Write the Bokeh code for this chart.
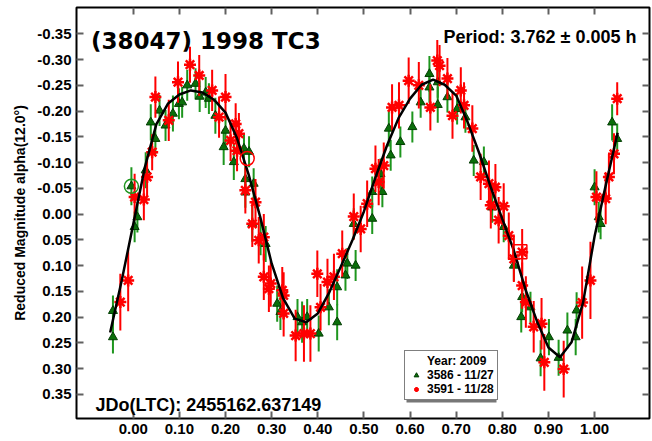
from bokeh.plotting import figure
from bokeh.models import (Range1d, FixedTicker, LinearAxis, Label, Legend, LegendItem,
                          BoxAnnotation, ColumnDataSource, CustomLabelingPolicy)
from bokeh.embed import file_html
from bokeh.resources import INLINE

# ---- fitted lightcurve ----
curve_phase = [-0.05, -0.025, 0.0, 0.025, 0.05, 0.075, 0.10, 0.125, 0.15, 0.175, 0.20, 0.225,
               0.25, 0.275, 0.30, 0.325, 0.35, 0.375, 0.40, 0.425, 0.45, 0.475, 0.50, 0.525,
               0.55, 0.575, 0.60, 0.625, 0.65, 0.675, 0.70, 0.725, 0.75, 0.775, 0.80, 0.825,
               0.85, 0.875, 0.90, 0.925, 0.95, 0.975, 1.00, 1.025, 1.05]
curve_mag = [0.230, 0.129, 0.020, -0.090, -0.174, -0.214, -0.232, -0.240, -0.236, -0.222, -0.197, -0.147,
             -0.077, 0.005, 0.096, 0.164, 0.203, 0.210, 0.193, 0.152, 0.102, 0.051, -0.005, -0.071,
             -0.133, -0.186, -0.224, -0.251, -0.261, -0.251, -0.230, -0.178, -0.118, -0.052, 0.010, 0.071,
             0.146, 0.208, 0.259, 0.278, 0.249, 0.172, 0.043, -0.059, -0.158]

# ---- session 3586 - 11/27 (green triangles) ----
g_phase = [-0.044, -0.044, -0.004, 0.003, 0.009, 0.027, 0.038, 0.048, 0.057, 0.070, 0.086, 0.099,
           0.106, 0.117, 0.135, 0.144, 0.157, 0.164, 0.178, 0.200, 0.196, 0.218, 0.240, 0.251,
           0.243, 0.243, 0.261, 0.258, 0.276, 0.287, 0.312, 0.319, 0.356, 0.366, 0.377, 0.402,
           0.424, 0.442, 0.442, 0.460, 0.464, 0.482, 0.478, 0.518, 0.518, 0.540, 0.536, 0.558,
           0.554, 0.579, 0.605, 0.623, 0.642, 0.642, 0.660, 0.660, 0.681, 0.702, 0.720, 0.738,
           0.760, 0.778, 0.803, 0.825, 0.843, 0.861, 0.841, 0.883, 0.901, 0.922, 0.941, 0.959,
           0.961, 1.000, 1.009, 1.013, 1.038, 1.049]
g_mag = [0.188, 0.239, -0.054, 0.025, 0.006, -0.085, -0.178, -0.146, -0.201, -0.172, -0.195, -0.214,
         -0.217, -0.250, -0.253, -0.228, -0.236, -0.224, -0.191, -0.162, -0.130, -0.101, -0.127, -0.121,
         -0.068, -0.042, -0.059, 0.019, 0.045, 0.058, 0.174, 0.190, 0.200, 0.210, 0.200, 0.232,
         0.181, 0.210, 0.142, 0.119, 0.096, 0.100, 0.019, 0.009, -0.043, -0.043, -0.078, -0.114,
         -0.166, -0.140, -0.169, -0.217, -0.272, -0.246, -0.256, -0.212, -0.227, -0.204, -0.188, -0.104,
         -0.101, -0.013, 0.025, 0.100, 0.161, 0.181, 0.200, 0.280, 0.239, 0.279, 0.226, 0.239,
         0.187, -0.052, 0.006, 0.019, -0.178, -0.146]
g_err = [0.030, 0.032, 0.037, 0.030, 0.030, 0.035, 0.035, 0.030, 0.030, 0.030, 0.035, 0.030,
         0.030, 0.030, 0.030, 0.030, 0.030, 0.030, 0.035, 0.035, 0.035, 0.035, 0.030, 0.030,
         0.030, 0.030, 0.030, 0.035, 0.035, 0.035, 0.035, 0.035, 0.035, 0.040, 0.035, 0.035,
         0.035, 0.035, 0.035, 0.030, 0.030, 0.030, 0.030, 0.030, 0.030, 0.030, 0.030, 0.030,
         0.035, 0.030, 0.030, 0.030, 0.035, 0.030, 0.030, 0.035, 0.030, 0.030, 0.030, 0.030,
         0.030, 0.030, 0.030, 0.030, 0.030, 0.030, 0.030, 0.035, 0.035, 0.035, 0.035, 0.035,
         0.035, 0.035, 0.030, 0.030, 0.035, 0.030]

# ---- session 3591 - 11/28 (red asterisks) ----
r_phase = [-0.028, -0.011, 0.003, 0.023, 0.030, 0.041, 0.048, 0.077, 0.097, 0.123, 0.143, 0.171,
           0.200, 0.186, 0.211, 0.222, 0.225, 0.229, 0.243, 0.265, 0.258, 0.283, 0.272, 0.283,
           0.298, 0.294, 0.323, 0.326, 0.326, 0.352, 0.370, 0.384, 0.399, 0.406, 0.421, 0.435,
           0.453, 0.478, 0.493, 0.507, 0.525, 0.543, 0.532, 0.561, 0.576, 0.597, 0.619, 0.644,
           0.659, 0.664, 0.681, 0.692, 0.710, 0.717, 0.735, 0.753, 0.771, 0.785, 0.775, 0.803,
           0.792, 0.814, 0.825, 0.843, 0.843, 0.851, 0.868, 0.885, 0.891, 0.933, 0.973, 0.991,
           1.004, 1.024, 1.031, 1.042, 1.049]
r_mag = [0.171, 0.129, -0.033, -0.028, -0.072, -0.120, -0.227, -0.182, -0.256, -0.290, -0.269, -0.240,
         -0.227, -0.188, -0.143, -0.175, -0.123, -0.156, -0.046, -0.023, 0.019, 0.045, 0.051, 0.122,
         0.135, 0.145, 0.148, 0.158, 0.193, 0.236, 0.232, 0.232, 0.116, 0.181, 0.132, 0.122,
         0.077, 0.005, 0.029, -0.020, -0.088, -0.094, -0.062, -0.207, -0.211, -0.259, -0.250, -0.207,
         -0.298, -0.288, -0.263, -0.191, -0.240, -0.211, -0.166, -0.072, -0.059, -0.052, -0.017, -0.015,
         0.012, 0.042, 0.087, 0.074, 0.139, 0.171, 0.219, 0.213, 0.288, 0.301, 0.172, 0.129,
         -0.033, -0.030, -0.072, -0.117, -0.224]
r_err = [0.055, 0.060, 0.045, 0.040, 0.040, 0.035, 0.040, 0.040, 0.040, 0.035, 0.040, 0.040,
         0.045, 0.040, 0.040, 0.040, 0.040, 0.040, 0.045, 0.045, 0.045, 0.045, 0.045, 0.045,
         0.045, 0.045, 0.045, 0.045, 0.045, 0.050, 0.055, 0.055, 0.045, 0.045, 0.045, 0.045,
         0.045, 0.045, 0.045, 0.045, 0.045, 0.045, 0.045, 0.045, 0.045, 0.045, 0.045, 0.045,
         0.040, 0.040, 0.040, 0.045, 0.045, 0.045, 0.045, 0.045, 0.045, 0.045, 0.045, 0.045,
         0.045, 0.045, 0.045, 0.045, 0.045, 0.050, 0.050, 0.050, 0.055, 0.055, 0.070, 0.075,
         0.050, 0.050, 0.045, 0.040, 0.032]

# first/last-point markers of the sessions
g_start_phase = [-0.004]
g_start_mag = [-0.054]
r_start_phase = [0.247]
r_start_mag = [-0.108]
r_end_phase = [0.838]
r_end_mag = [0.073]

x_ticks = [0.0, 0.1, 0.2, 0.3, 0.4, 0.5, 0.6, 0.7, 0.8, 0.9, 1.0]
x_tick_labels = ["0.00", "0.10", "0.20", "0.30", "0.40", "0.50", "0.60", "0.70", "0.80", "0.90", "1.00"]
y_ticks = [-0.35, -0.3, -0.25, -0.2, -0.15, -0.1, -0.05, 0.0, 0.05, 0.1, 0.15, 0.2, 0.25, 0.3, 0.35]
y_tick_labels = ["-0.35", "-0.30", "-0.25", "-0.20", "-0.15", "-0.10", "-0.05", "0.00",
                 "0.05", "0.10", "0.15", "0.20", "0.25", "0.30", "0.35"]

FONT = "Liberation Sans"
X_LO, X_HI = -0.123, 1.119
Y_BOTTOM, Y_TOP = 0.397, -0.401

p = figure(width=652, height=441, output_backend="svg", toolbar_location=None,
           x_range=Range1d(X_LO, X_HI), y_range=Range1d(Y_BOTTOM, Y_TOP),
           min_border_left=76, min_border_right=3, min_border_top=7, min_border_bottom=23)
p.xgrid.visible = False
p.ygrid.visible = False
p.outline_line_color = "black"
p.outline_line_width = 2
p.background_fill_color = "white"
p.border_fill_color = "white"

hide_all = CustomLabelingPolicy(code="""
for (const i of Array.from(indices)) { indices.unset(i) }
return indices
""")


def style_axis(ax, ticks, labels):
    ax.ticker = FixedTicker(ticks=ticks)
    ax.major_label_overrides = dict(zip(ticks, labels))
    ax.axis_line_color = None
    ax.major_tick_in = 7
    ax.major_tick_out = 0
    ax.major_tick_line_color = "#606060"
    ax.major_tick_line_width = 2
    ax.minor_tick_line_color = None
    ax.major_label_text_font = FONT
    ax.major_label_text_font_style = "bold"
    ax.major_label_text_font_size = "15px"
    ax.major_label_text_color = "black"


style_axis(p.xaxis[0], x_ticks, x_tick_labels)
style_axis(p.yaxis[0], y_ticks, y_tick_labels)
p.xaxis[0].major_label_standoff = 5
p.yaxis[0].major_label_standoff = 5
p.yaxis[0].axis_label = "Reduced Magnitude alpha(12.0°)"
p.yaxis[0].axis_label_text_font = FONT
p.yaxis[0].axis_label_text_font_style = "bold"
p.yaxis[0].axis_label_text_font_size = "14px"
p.yaxis[0].axis_label_text_color = "black"
p.yaxis[0].axis_label_standoff = 6

top_ax = LinearAxis(fixed_location=Y_TOP)
style_axis(top_ax, x_ticks, x_tick_labels)
top_ax.major_label_policy = hide_all
p.add_layout(top_ax, "above")
right_ax = LinearAxis(fixed_location=X_HI)
style_axis(right_ax, y_ticks, y_tick_labels)
right_ax.major_label_policy = hide_all
p.add_layout(right_ax, "right")

# ---- data ----
g_src = ColumnDataSource(dict(x=g_phase, y=g_mag,
                              lo=[m - e for m, e in zip(g_mag, g_err)],
                              hi=[m + e for m, e in zip(g_mag, g_err)]))
r_src = ColumnDataSource(dict(x=r_phase, y=r_mag,
                              lo=[m - e for m, e in zip(r_mag, r_err)],
                              hi=[m + e for m, e in zip(r_mag, r_err)]))

p.segment(x0="x", y0="lo", x1="x", y1="hi", source=g_src, line_color="#1e961e", line_width=2)
g_sc = p.scatter(x="x", y="y", source=g_src, marker="triangle", size=9,
                 fill_color="#0a6e0a", line_color="#033d03", line_width=1)
p.segment(x0="x", y0="lo", x1="x", y1="hi", source=r_src, line_color="#ff0000", line_width=2)
r_sc = p.scatter(x="x", y="y", source=r_src, marker="asterisk", size=12,
                 line_color="#ff0000", line_width=2.5)

p.line(curve_phase, curve_mag, line_color="black", line_width=2.5)

p.scatter(g_start_phase, g_start_mag, marker="circle", size=14, fill_color=None,
          line_color="#1e961e", line_width=1.5)
p.scatter(r_start_phase, r_start_mag, marker="circle", size=14, fill_color=None,
          line_color="#ff0000", line_width=1.5)
p.scatter(r_end_phase, r_end_mag, marker="square", size=14, fill_color=None,
          line_color="#ff0000", line_width=1.5)

# ---- texts (screen offsets from the frame's bottom-left corner) ----
p.add_layout(Label(x=14.5, y=378, x_units="screen", y_units="screen", text="(38047) 1998 TC3",
                   text_font="DejaVu Sans", text_font_style="bold", text_font_size="23px",
                   text_color="black", text_baseline="alphabetic"))
p.add_layout(Label(x=560, y=382, x_units="screen", y_units="screen", text="Period: 3.762 ± 0.005 h",
                   text_font=FONT, text_font_style="bold", text_font_size="18px",
                   text_color="black", text_baseline="alphabetic", text_align="right"))
p.add_layout(Label(x=19, y=14, x_units="screen", y_units="screen", text="JDo(LTC): 2455162.637149",
                   text_font=FONT, text_font_style="bold", text_font_size="18px",
                   text_color="black", text_baseline="alphabetic"))

# ---- legend with drop shadow ----
p.add_layout(BoxAnnotation(left=330, right=420, bottom=16, top=62,
                           left_units="screen", right_units="screen",
                           bottom_units="screen", top_units="screen",
                           fill_color="#777777", fill_alpha=1, line_color=None))
legend = Legend(items=[LegendItem(label="Year: 2009", renderers=[]),
                       LegendItem(label="3586 - 11/27", renderers=[g_sc]),
                       LegendItem(label="3591 - 11/28", renderers=[r_sc])],
                location=(328, 18), padding=3, spacing=0, margin=0,
                glyph_width=16, glyph_height=12, label_standoff=3, label_height=12,
                label_text_font=FONT, label_text_font_style="bold", label_text_font_size="12px",
                label_text_color="black", border_line_color="black", border_line_width=1,
                background_fill_color="white", background_fill_alpha=1)
p.add_layout(legend)

open("out.html", "w").write(file_html(p, INLINE))
